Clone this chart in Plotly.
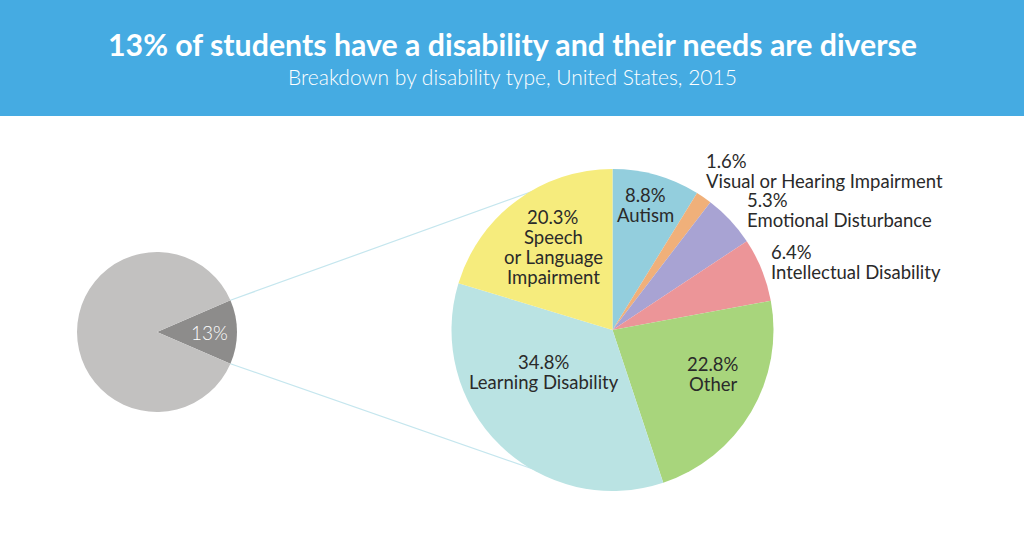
import math
import plotly.graph_objects as go

W, H = 1024, 538

# data
categories = ["Autism", "Visual or Hearing Impairment", "Emotional Disturbance",
              "Intellectual Disability", "Other", "Learning Disability",
              "Speech|or Language|Impairment"]
shares = [8.8, 1.6, 5.3, 6.4, 22.8, 34.8, 20.3]
colors = ["#93cedd", "#f0b07a", "#a8a3d3", "#ec9598", "#a8d57c", "#bae3e3", "#f6ec7d"]

overall_labels = ["With a disability", "Without a disability"]
overall_shares = [13, 87]
overall_colors = ["#8d8c8b", "#c2c1c0"]

title = "13% of students have a disability and their needs are diverse"
subtitle = "Breakdown by disability type, United States, 2015"

# geometry (pixels)
big_c, big_r = (612.5, 330), 161
small_c, small_r = (157, 332), 80
line_gap = 20
# label placement per slice: (radius fraction, angle shift deg, outside?)
place = [(0.80, -1, False), (1.137, -4.6, True), (1.11, 0.8, True), (1.06, -1.4, True),
         (0.68, -7, False), (0.50, 14, False), (0.634, 0.9, False)]


def px(x, y):
    return x / W, 1 - y / H


def dom(c, r):
    x0, y1 = px(c[0] - r, c[1] - r)
    x1, y0 = px(c[0] + r, c[1] + r)
    return dict(x=[x0, x1], y=[y0, y1])


def polar(c, r, deg):
    a = math.radians(deg)
    return c[0] + r * math.sin(a), c[1] - r * math.cos(a)


fig = go.Figure()

wedge = overall_shares[0] / sum(overall_shares) * 360
fig.add_trace(go.Pie(labels=overall_labels, values=overall_shares, sort=False,
                     direction="clockwise", rotation=90 - wedge / 2,
                     marker=dict(colors=overall_colors, line=dict(width=0)),
                     textinfo="none", hoverinfo="skip", showlegend=False,
                     domain=dom(small_c, small_r)))

fig.add_trace(go.Pie(labels=categories, values=shares, sort=False,
                     direction="clockwise", rotation=0,
                     marker=dict(colors=colors, line=dict(width=0)),
                     textinfo="none", hoverinfo="skip", showlegend=False,
                     domain=dom(big_c, big_r)))

shapes = [dict(type="rect", xref="paper", yref="paper", x0=0, x1=1,
               y0=1 - 116 / H, y1=1, fillcolor="#45abe2", line=dict(width=0),
               layer="below")]

# connector lines from the 13% wedge to the breakdown pie
for sgn, end in ((-1, (550, 185)), (1, (550, 475))):
    sx, sy = polar(small_c, small_r, 90 + sgn * wedge / 2)
    x0, y0 = px(sx, sy)
    x1, y1 = px(*end)
    shapes.append(dict(type="line", xref="paper", yref="paper", x0=x0, y0=y0,
                       x1=x1, y1=y1, line=dict(color="#c5e6ee", width=1.2),
                       layer="below"))

font = "Lato, Noto Sans, sans-serif"
ann = [
    dict(text="<b>" + title + "</b>", x=0.5, y=1 - 44 / H,
         font=dict(family=font, size=30.3, color="white")),
    dict(text=subtitle, x=0.5, y=1 - 77 / H,
         font=dict(family=font, size=21, color="white", weight=300)),
]

lx, ly = polar(small_c, small_r * 0.66, 90)
ax, ay = px(lx, ly)
ann.append(dict(text=f"{overall_shares[0]}%", x=ax, y=ay,
                font=dict(family=font, size=19, color="white", weight=300)))

cum = 0
for cat, v, (rf, shift, outside) in zip(categories, shares, place):
    mid = (cum + v / 2) / 100 * 360
    cum += v
    cx, cy = polar(big_c, big_r * rf, mid + shift)
    rows = [f"{v}%"] + cat.split("|")
    for i, row in enumerate(rows):
        ax, ay = px(cx, cy + (i - (len(rows) - 1) / 2) * line_gap)
        ann.append(dict(text=row, x=ax, y=ay,
                        xanchor="left" if outside else "center",
                        font=dict(family=font, size=18.5, color="#2a2a2a")))

for a in ann:
    a.setdefault("xanchor", "center")
    a.update(showarrow=False, yanchor="middle", xref="paper", yref="paper")

fig.update_layout(width=W, height=H, margin=dict(l=0, r=0, t=0, b=0),
                  paper_bgcolor="white", plot_bgcolor="white",
                  shapes=shapes, annotations=ann)

fig.write_html("out.html", config={"displayModeBar": False},
               post_script="document.body.style.margin='0px';")
